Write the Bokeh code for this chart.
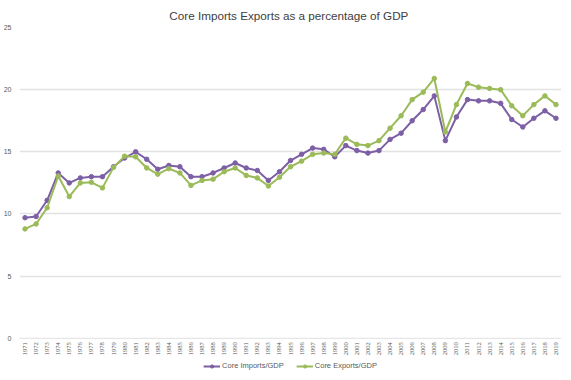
from bokeh.plotting import figure
from bokeh.models import FactorRange, Range1d, Legend, LegendItem, FixedTicker, Span
from bokeh.embed import file_html
from bokeh.resources import INLINE
import math

years = ["1971", "1972", "1973", "1974", "1975", "1976", "1977", "1978", "1979", "1980",
         "1981", "1982", "1983", "1984", "1985", "1986", "1987", "1988", "1989", "1990",
         "1991", "1992", "1993", "1994", "1995", "1996", "1997", "1998", "1999", "2000",
         "2001", "2002", "2003", "2004", "2005", "2006", "2007", "2008", "2009", "2010",
         "2011", "2012", "2013", "2014", "2015", "2016", "2017", "2018", "2019"]

imports_gdp = [9.7, 9.8, 11.1, 13.3, 12.5, 12.9, 13.0, 13.0, 13.8, 14.5,
               15.0, 14.4, 13.6, 13.9, 13.8, 13.0, 13.0, 13.3, 13.7, 14.1,
               13.7, 13.5, 12.7, 13.4, 14.3, 14.8, 15.3, 15.2, 14.6, 15.5,
               15.1, 14.9, 15.1, 16.0, 16.5, 17.5, 18.4, 19.5, 15.9, 17.8,
               19.2, 19.1, 19.1, 18.9, 17.6, 17.0, 17.7, 18.3, 17.7]

exports_gdp = [8.8, 9.2, 10.5, 13.05, 11.4, 12.5, 12.55, 12.1, 13.75, 14.65,
               14.6, 13.7, 13.2, 13.65, 13.3, 12.3, 12.7, 12.8, 13.4, 13.7,
               13.1, 12.9, 12.25, 12.95, 13.8, 14.25, 14.8, 14.9, 14.8, 16.1,
               15.6, 15.5, 15.9, 16.9, 17.9, 19.2, 19.8, 20.9, 16.6, 18.8,
               20.5, 20.2, 20.1, 20.0, 18.7, 17.9, 18.8, 19.5, 18.8]

y_ticks = [0, 5, 10, 15, 20, 25]

title_text = "Core Imports Exports as a  percentage of GDP"
label_imports = "Core Imports/GDP"
label_exports = "Core Exports/GDP"

PURPLE = "#7D5FA5"
GREEN = "#9BBB59"
FONT = "Liberation Sans"
GREY = "#595959"

# the frame reaches below 0 so that the year labels and the legend sit inside it
p = figure(frame_width=542, frame_height=344, output_backend="svg", toolbar_location=None,
           x_range=FactorRange(factors=years, range_padding=0),
           y_range=Range1d(-2.67, 25),
           min_border_left=0, min_border_right=0, min_border_top=0, min_border_bottom=0)

p.title.text = title_text
p.title.align = "center"
p.title.text_font = FONT
p.title.text_font_size = "11.7px"
p.title.text_font_style = "normal"
p.title.text_color = "#404040"
p.title.offset = 0
p.title.standoff = 12

p.outline_line_color = None
p.background_fill_color = "white"
p.border_fill_color = "white"

p.xgrid.grid_line_color = None
p.ygrid.ticker = FixedTicker(ticks=y_ticks[1:])
p.ygrid.grid_line_color = "#E2E2E2"
p.ygrid.grid_line_width = 1.5

p.yaxis.ticker = FixedTicker(ticks=y_ticks)
p.yaxis.axis_line_color = None
p.yaxis.major_tick_line_color = None
p.yaxis.minor_tick_line_color = None
p.yaxis.major_tick_out = 0
p.yaxis.minor_tick_out = 0
p.yaxis.major_tick_in = 0
p.yaxis.major_label_text_font = FONT
p.yaxis.major_label_text_font_size = "7px"
p.yaxis.major_label_text_color = GREY
p.yaxis.major_label_standoff = 8

# category axis: drawn as a dotted base line at 0 with vertical year labels beneath it
p.xaxis.visible = False
p.add_layout(Span(location=y_ticks[0], dimension="width", line_color="#C0C0C0",
                  line_dash="1 1", line_width=1))
p.text(x=years, y=y_ticks[0], text=years, angle=math.pi / 2,
       text_align="right", text_baseline="middle", y_offset=4,
       text_font="Liberation Sans", text_font_size="6.5px", text_color=GREY)

l1 = p.line(years, imports_gdp, line_color=PURPLE, line_width=2)
s1 = p.scatter(years, imports_gdp, marker="circle", size=4.5, fill_color=PURPLE, line_color=PURPLE)
l2 = p.line(years, exports_gdp, line_color=GREEN, line_width=2)
s2 = p.scatter(years, exports_gdp, marker="circle", size=4.5, fill_color=GREEN, line_color=GREEN)

legend = Legend(items=[LegendItem(label=label_imports, renderers=[l1, s1]),
                       LegendItem(label=label_exports, renderers=[l2, s2])],
                orientation="horizontal", location="bottom_center",
                label_text_font=FONT, label_text_font_size="7.5px", label_text_color=GREY,
                glyph_width=17, glyph_height=8, label_height=8, label_standoff=2,
                spacing=12, padding=1, margin=1, border_line_color=None,
                background_fill_alpha=0)
p.add_layout(legend)

open("out.html", "w").write(file_html(p, INLINE))
